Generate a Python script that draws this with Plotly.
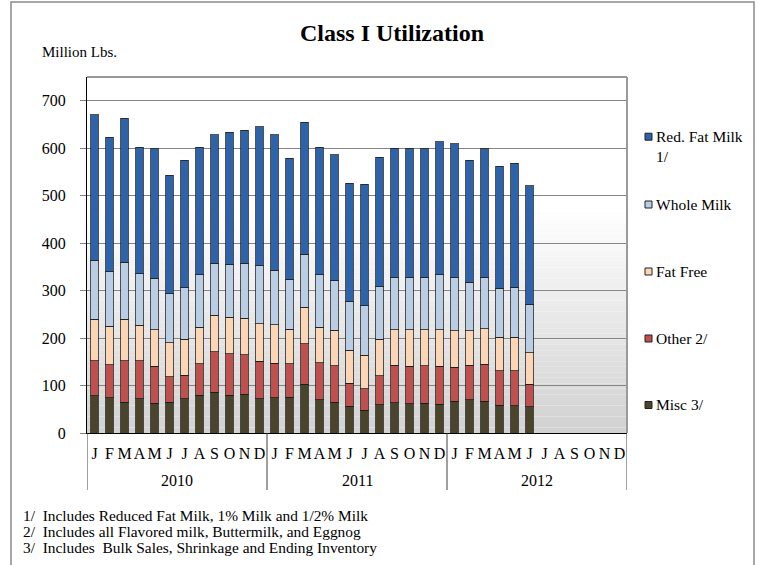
import plotly.graph_objects as go

# monthly class I utilization, million lbs (2012 only through June)
months = ["J", "F", "M", "A", "M", "J", "J", "A", "S", "O", "N", "D"] * 3
years = ["2010", "2011", "2012"]

misc = [79, 74, 65, 72, 63, 65, 72, 80, 86, 80, 82, 72,
        74, 75, 103, 70, 65, 56, 48, 60, 64, 62, 63, 61,
        67, 70, 67, 58, 57, 55]
other = [73, 70, 87, 80, 78, 54, 50, 66, 85, 87, 83, 79,
         73, 71, 85, 78, 77, 49, 45, 61, 79, 79, 79, 80,
         72, 73, 78, 73, 74, 48]
fat_free = [88, 81, 88, 75, 77, 71, 76, 77, 77, 77, 77, 79,
            81, 73, 77, 75, 74, 69, 71, 76, 75, 77, 76, 77,
            76, 72, 75, 71, 71, 66]
whole_milk = [123, 115, 120, 108, 108, 103, 108, 110, 110, 112, 116, 122,
              115, 105, 112, 110, 106, 102, 104, 111, 109, 109, 110, 115,
              112, 103, 108, 103, 105, 102]
red_fat_milk = [307, 283, 303, 267, 273, 250, 269, 269, 270, 278, 280, 293,
                285, 255, 278, 269, 264, 250, 256, 273, 273, 273, 271, 281,
                282, 257, 271, 257, 261, 250]

series = [misc, other, fat_free, whole_milk, red_fat_milk]
series_names = ["Misc 3/", "Other 2/", "Fat Free", "Whole Milk", "Red. Fat Milk<br>1/"]
series_colors = ["#4a452a", "#c0504d", "#fcd5b5", "#b9cde5", "#2c63ab"]

footnotes = [
    "1/\u00a0 Includes Reduced Fat Milk, 1% Milk and 1/2% Milk",
    "2/\u00a0 Includes all Flavored milk, Buttermilk, and Eggnog",
    "3/\u00a0 Includes\u00a0 Bulk Sales, Shrinkage and Ending Inventory",
]

FONT = "Liberation Serif"
W, H = 758, 565
L, R, T, B = 87, 131, 77, 132
PW, PH = W - L - R, H - T - B


def px_x(px):
    return (px - L) / PW


def px_y(py):
    return (H - B - py) / PH


fig = go.Figure()
x = list(range(len(misc)))
for vals, name, color in zip(series, series_names, series_colors):
    fig.add_trace(go.Bar(x=x, y=vals, name=name, marker_color=color,
                         marker_line=dict(color="rgba(25,25,25,0.75)", width=1),
                         showlegend=False))

shapes = []
# gradient plot background
n = 40
for i in range(n):
    t = i / n
    g = int(0xd2 + (0xff - 0xd2) * t)
    shapes.append(dict(type="rect", xref="x domain", yref="y domain",
                       x0=0, x1=1, y0=0.62 * i / n, y1=0.62 * (i + 1) / n,
                       fillcolor="rgb(%d,%d,%d)" % (g, g, g), line_width=0, layer="below"))
# plot frame top and right
shapes.append(dict(type="line", xref="paper", yref="paper", x0=0, x1=1, y0=1, y1=1,
                   line=dict(color="#333333", width=1)))
shapes.append(dict(type="line", xref="paper", yref="paper", x0=1, x1=1, y0=0, y1=1,
                   line=dict(color="#9a9a9a", width=2)))
# year separators below the axis
for k in range(len(years) + 1):
    shapes.append(dict(type="line", xref="x", yref="paper", x0=12 * k - 0.5, x1=12 * k - 0.5,
                       y0=0, y1=px_y(490), line=dict(color="#404040", width=1)))
# outer chart border
shapes.append(dict(type="rect", xref="paper", yref="paper",
                   x0=px_x(11), x1=px_x(754), y0=px_y(590), y1=px_y(2),
                   line=dict(color="#8a8a8a", width=1.5)))

annotations = []
for k, yr in enumerate(years):
    annotations.append(dict(x=12 * k + 5.5, y=px_y(481), xref="x", yref="paper", text=yr,
                            yanchor="middle", showarrow=False,
                            font=dict(family=FONT, size=16, color="#000")))
annotations.append(dict(x=px_x(40), y=px_y(52), xref="paper", yref="paper", text="Million Lbs.",
                        xanchor="left", yanchor="middle", showarrow=False,
                        font=dict(family=FONT, size=15, color="#000")))
for i, line in enumerate(footnotes):
    annotations.append(dict(x=px_x(21), y=px_y(515 + 16.4 * i), xref="paper", yref="paper", text=line,
                            xanchor="left", yanchor="middle", showarrow=False,
                            font=dict(family=FONT, size=15.4, color="#000")))

# legend drawn by hand so that spacing follows the original
legend_y = [405, 338.5, 271.5, 204.5, 136.7]
for name, color, ly in zip(series_names, series_colors, legend_y):
    shapes.append(dict(type="rect", xref="paper", yref="paper",
                       x0=px_x(645), x1=px_x(652), y0=px_y(ly + 3.5), y1=px_y(ly - 3.5),
                       fillcolor=color, line=dict(color="#222", width=1)))
    annotations.append(dict(x=px_x(654), y=px_y(ly - 11), xref="paper", yref="paper", text=name,
                            xanchor="left", yanchor="top", align="left", showarrow=False,
                            font=dict(family=FONT, size=15.5, color="#000")))

fig.update_layout(
    width=W, height=H,
    margin=dict(l=L, r=R, t=T, b=B, pad=0),
    paper_bgcolor="white", plot_bgcolor="rgba(0,0,0,0)",
    barmode="stack", bargap=0.5,
    font=dict(family=FONT, size=16, color="#000"),
    title=dict(text="<b>Class I Utilization</b>", xref="paper", x=px_x(392),
               y=1 - 33 / H, yanchor="middle", xanchor="center",
               font=dict(family=FONT, size=24, color="#000")),
    xaxis=dict(range=[-0.5, 35.5], tickmode="array", tickvals=list(range(36)), ticktext=months,
               tickangle=0, showgrid=False, showline=True, linecolor="#000", linewidth=1,
               ticks="", ticklabelstandoff=6, tickfont=dict(family=FONT, size=16), zeroline=False),
    yaxis=dict(range=[0, 750], tickvals=[0, 100, 200, 300, 400, 500, 600, 700],
               showgrid=True, gridcolor="#858585", gridwidth=1,
               showline=True, linecolor="#000", linewidth=1,
               ticks="outside", ticklen=6, tickcolor="#858585", ticklabelstandoff=11,
               tickfont=dict(family=FONT, size=16), zeroline=False),
    shapes=shapes, annotations=annotations,
)

fig.write_html("out.html", config={"displayModeBar": False},
               post_script="document.body.style.margin='0';")
